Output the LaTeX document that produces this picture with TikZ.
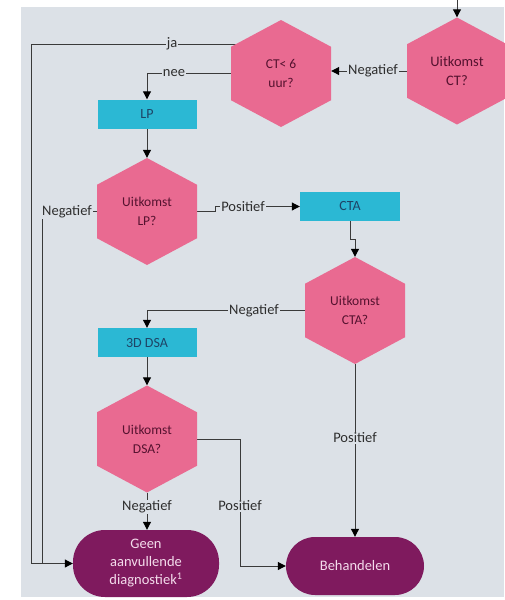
\documentclass[tikz,border=0pt]{standalone}
\usepackage{fontspec}
\setmainfont{Carlito}
\usetikzlibrary{arrows.meta}

\definecolor{canvas}{HTML}{DCE1E7}
\definecolor{hexpink}{HTML}{E96A91}
\definecolor{hextext}{HTML}{55122F}
\definecolor{boxcyan}{HTML}{2BB8D4}
\definecolor{boxtext}{HTML}{1E4466}
\definecolor{termpurple}{HTML}{7F1A5E}
\definecolor{termtext}{HTML}{F4DCEC}
\definecolor{wirec}{HTML}{3A3A3A}
\definecolor{tagtext}{HTML}{2E2E2E}

\pgfdeclarelayer{backdrop}
\pgfdeclarelayer{wires}
\pgfsetlayers{backdrop,wires,main}

\tikzset{
  hexa/.style={rectangle, minimum width=100pt, minimum height=107pt, inner sep=0pt,
    align=center, text=hextext, font=\fontsize{13.5}{19}\selectfont,
    path picture={\fill[hexpink] (path picture bounding box.north)
      -- ([yshift=-26.75pt]path picture bounding box.north east)
      -- ([yshift=26.75pt]path picture bounding box.south east)
      -- (path picture bounding box.south)
      -- ([yshift=26.75pt]path picture bounding box.south west)
      -- ([yshift=-26.75pt]path picture bounding box.north west) -- cycle;}},
  stepbox/.style={rectangle, fill=boxcyan, minimum width=99pt, minimum height=29pt,
    inner sep=0pt, text=boxtext, font=\fontsize{14}{16}\selectfont},
  term/.style={rectangle, fill=termpurple, text=termtext, align=center, inner sep=0pt,
    font=\fontsize{14.5}{18}\selectfont},
  wire/.style={draw=wirec, line width=1pt},
  arr/.style={wire, -{Triangle[length=8pt,width=8pt,color=black]}},
  tag/.style={fill=canvas, inner sep=1pt, text=tagtext, font=\fontsize{14.5}{16}\selectfont},
}

\begin{document}
\begin{tikzpicture}[x=1pt, y=-1pt]
  \useasboundingbox (0,0) rectangle (504,600);
  \begin{pgfonlayer}{backdrop}
    \fill[canvas] (21,7) rectangle (504,597);
  \end{pgfonlayer}

  % decision and step nodes
  \node[hexa, font=\fontsize{14.5}{19}\selectfont] (ct) at (457,71) {Uitkomst\\CT?};
  \node[hexa] (ct6)   at (281,73.5)  {CT< 6\\uur?};
  \node[stepbox] (lp) at (147,114)   {LP};
  \node[hexa] (lpq)   at (147,211.5) {Uitkomst\\LP?};
  \node[stepbox, minimum width=100pt] (cta) at (350,206.5) {CTA};
  \node[hexa] (ctaq)  at (355,310.5) {Uitkomst\\CTA?};
  \node[stepbox] (dsa) at (147,342.5) {3D DSA};
  \node[hexa] (dsaq)  at (147,439)   {Uitkomst\\DSA?};
  \node[term, minimum width=146pt, minimum height=67pt, rounded corners=32pt] (geen)
    at (146,563.5) {Geen\\aanvullende\\diagnostiek\textsuperscript{1}};
  \node[term, minimum width=138pt, minimum height=58pt, rounded corners=29pt] (beh)
    at (355,566) {Behandelen};

  % bend points of the connectors
  \coordinate (topin)  at (457,0);
  \coordinate (jastart) at (281,44);
  \coordinate (jatop)  at (31,44);
  \coordinate (jabot)  at (31,563.5);
  \coordinate (negtop) at (42,211.5);
  \coordinate (negbot) at (42,563.5);
  \coordinate (posa)   at (215,211.5);
  \coordinate (posb)   at (215,206.5);
  \coordinate (ctaa)   at (350,239);
  \coordinate (ctab)   at (355,239);
  \coordinate (dsaa)   at (240,439);
  \coordinate (dsab)   at (240,566);

  \begin{pgfonlayer}{wires}
    \draw[arr] (topin) -- (ct.north);
    \draw[arr] (ct.west) -- (ct.west -| ct6.east);
    \draw[arr] (jastart) -- (jatop) -- (jabot) -- (geen.west);
    \draw[arr] (ct6.west) -| (lp.north);
    \draw[arr] (lp.south) -- (lpq.north);
    \draw[wire] (lpq.west) -- (negtop) -- (negbot);
    \draw[arr] (lpq.east) -- (posa) -- (posb) -- (cta.west);
    \draw[arr] (cta.south) -- (ctaa) -- (ctab) -- (ctaq.north);
    \draw[arr] (ctaq.west) -| (dsa.north);
    \draw[arr] (dsa.south) -- (dsaq.north);
    \draw[arr] (dsaq.south) -- (dsaq.south |- geen.north);
    \draw[arr] (dsaq.east) -- (dsaa) -- (dsab) -- (beh.west);
    \draw[arr] (ctaq.south) -- (beh.north);
  \end{pgfonlayer}

  % connector labels
  \node[tag] (tnegct)  at (373,71)    {Negatief};
  \node[tag] (tja)     at (172,44)    {ja};
  \node[tag] (tnee)    at (174,73.5)  {nee};
  \node[tag] (tneglp)  at (67,211.5)  {Negatief};
  \node[tag] (tposlp)  at (243,206.5) {Positief};
  \node[tag] (tnegcta) at (254,310.5) {Negatief};
  \node[tag] (tnegdsa) at (147,507)   {Negatief};
  \node[tag] (tposdsa) at (240,506)   {Positief};
  \node[tag] (tposcta) at (355,438)   {Positief};
\end{tikzpicture}
\end{document}
